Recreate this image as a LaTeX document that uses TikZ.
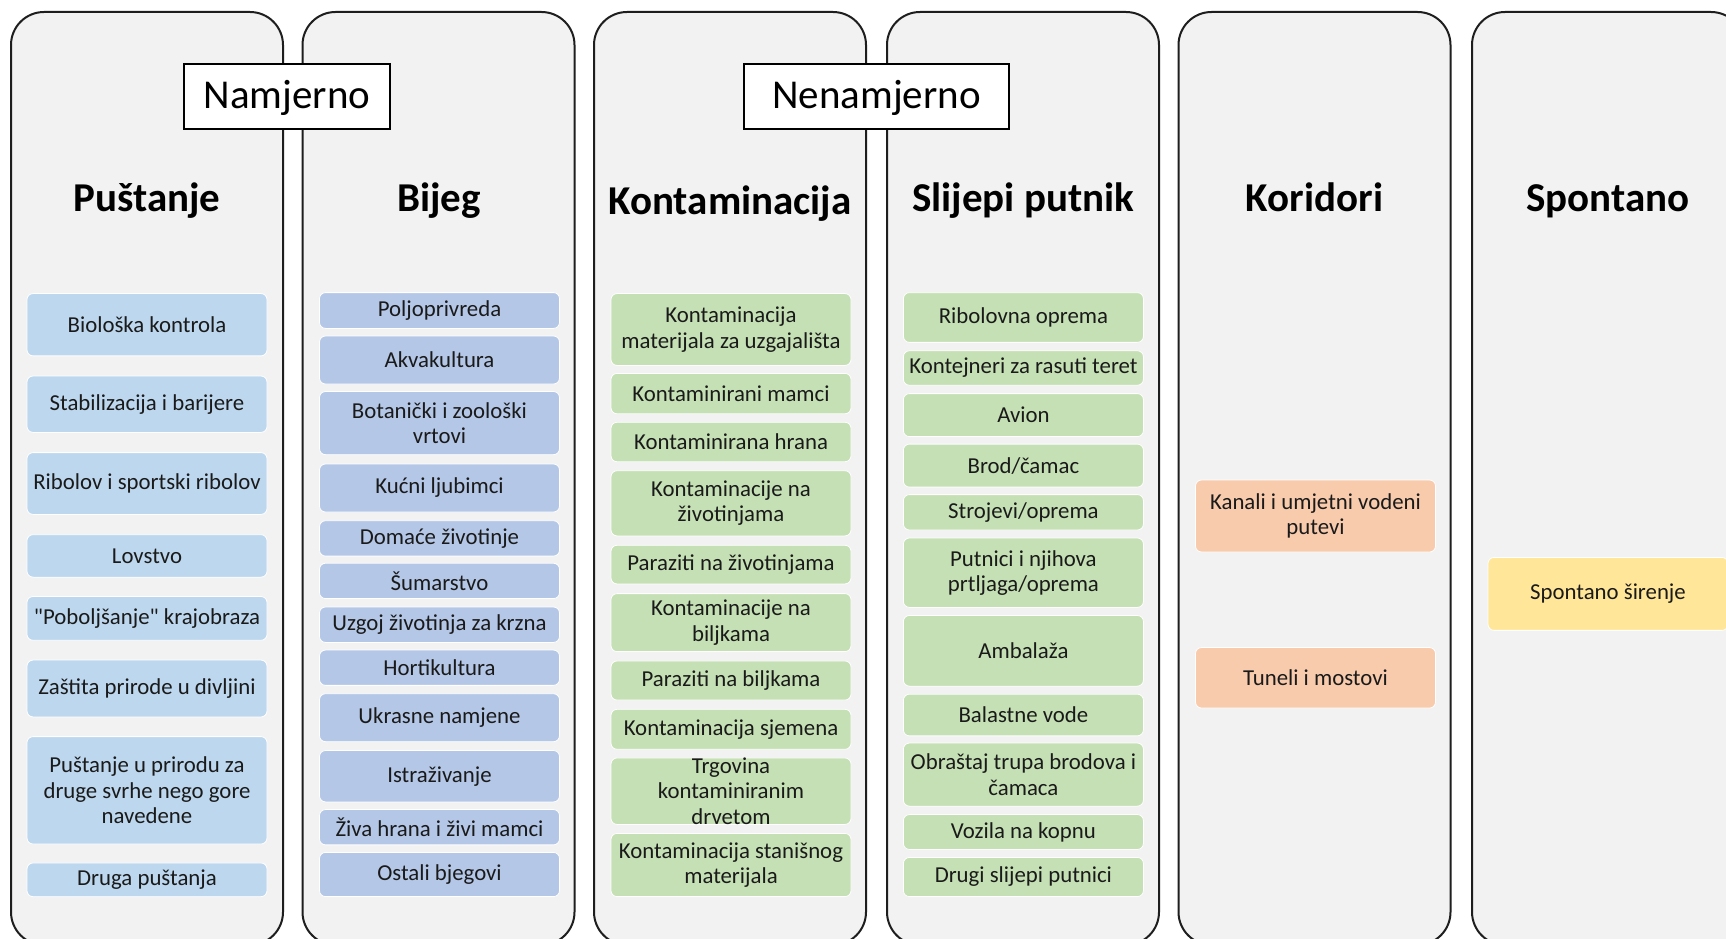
\documentclass[tikz,border=0pt]{standalone}
\usepackage{fontspec}
\setmainfont{Carlito}[Ligatures=TeXOff]
\definecolor{panelfill}{HTML}{F2F2F2}
\definecolor{panelline}{HTML}{1E1E1E}
\definecolor{blueA}{HTML}{BDD7EE}
\definecolor{blueB}{HTML}{B4C7E7}
\definecolor{greenA}{HTML}{C5E0B4}
\definecolor{orangeA}{HTML}{F8CBAD}
\definecolor{yellowA}{HTML}{FFE699}
\definecolor{textc}{HTML}{1A1A1A}
\tikzset{
  panel/.style={draw=panelline, line width=2pt, fill=panelfill, rounded corners=33pt,
    minimum width=272pt, minimum height=933pt, inner sep=0pt},
  ttl/.style={font=\fontsize{41}{48}\selectfont\bfseries, anchor=base, inner sep=0pt},
  grp/.style={draw=black, line width=1.3pt, fill=white, minimum height=65pt, inner sep=0pt,
    font=\fontsize{41}{48}\selectfont, text height=26pt, text depth=2pt},
  item/.style={draw=white, line width=0.8pt, rounded corners=6pt, minimum width=240pt,
    inner sep=0pt, align=center, font=\fontsize{22.8}{25.3}\selectfont, text=textc},
  ca/.style={item, fill=blueA},
  cb/.style={item, fill=blueB},
  cg/.style={item, fill=greenA},
  co/.style={item, fill=orangeA},
  cy/.style={item, fill=yellowA},
}
\begin{document}
\begin{tikzpicture}[x=1pt,y=-1pt]
\useasboundingbox (0,0) rectangle (1726,939);
\clip (0,0) rectangle (1726,939);
\fill[white] (0,0) rectangle (1726,939);
% panels
\node[panel] (p1) at (147,478.5) {};
\node[panel] (p2) at (438.5,478.5) {};
\node[panel] (p3) at (730,478.5) {};
\node[panel] (p4) at (1023,478.5) {};
\node[panel] (p5) at (1314.5,478.5) {};
\node[panel] (p6) at (1608,478.5) {};
% group labels
\node[grp, minimum width=206pt] (nam) at (287,96.5) {Namjerno};
\node[grp, minimum width=265pt] (nenam) at (876.5,96.5) {Nenamjerno};
% titles
\node[ttl] (t1) at (147,211) {Puštanje};
\node[ttl] (t2) at (439,211) {Bijeg};
\node[ttl] (t3) at (730,214) {Kontaminacija};
\node[ttl] (t4) at (1023,211) {Slijepi putnik};
\node[ttl] (t5) at (1314.5,211) {Koridori};
\node[ttl] (t6) at (1608,211) {Spontano};
% column 1
\node[ca, minimum height=62.3pt] (a1) at (147,324.7) {Biološka kontrola};
\node[ca, minimum height=56.4pt] (a2) at (147,404.2) {Stabilizacija i barijere};
\node[ca, minimum height=61.8pt] (a3) at (147,483.5) {Ribolov i sportski ribolov};
\node[ca, minimum height=42.5pt] (a4) at (147,555.9) {Lovstvo};
\node[ca, minimum height=43.8pt] (a5) at (147,618.4) {"Poboljšanje" krajobraza};
\node[ca, minimum height=56.9pt] (a6) at (147,688.5) {Zaštita prirode u divljini};
\node[ca, minimum height=107.4pt] (a7) at (147,790.3) {Puštanje u prirodu za\\druge svrhe nego gore\\navedene};
\node[ca, minimum height=33.7pt] (a8) at (147,879.8) {Druga puštanja};
% column 2
\node[cb, minimum height=35.8pt] (b1) at (439.5,310.5) {Poljoprivreda};
\node[cb, minimum height=48pt] (b2) at (439.5,360) {Akvakultura};
\node[cb, minimum height=63.2pt] (b3) at (439.5,423.1) {Botanički i zoološki\\vrtovi};
\node[cb, minimum height=48pt] (b4) at (439.5,488) {Kućni ljubimci};
\node[cb, minimum height=35.4pt] (b5) at (439.5,538.4) {Domaće životinje};
\node[cb, minimum height=35.4pt] (b6) at (439.5,580.9) {Šumarstvo};
\node[cb, minimum height=35.4pt] (b7) at (439.5,624.7) {Uzgoj životinja za krzna};
\node[cb, minimum height=35.3pt] (b8) at (439.5,667.7) {Hortikultura};
\node[cb, minimum height=48pt] (b9) at (439.5,717.7) {Ukrasne namjene};
\node[cb, minimum height=51.4pt] (b10) at (439.5,776.2) {Istraživanje};
\node[cb, minimum height=35.3pt] (b11) at (439.5,827.2) {Živa hrana i živi mamci};
\node[cb, minimum height=44.2pt] (b12) at (439.5,874.5) {Ostali bjegovi};
% column 3
\node[cg, minimum height=71.9pt] (g1) at (731,329.5) {Kontaminacija\\materijala za uzgajališta};
\node[cg, minimum height=40.4pt] (g2) at (731,393.6) {Kontaminirani mamci};
\node[cg, minimum height=39.5pt] (g3) at (731,442) {Kontaminirana hrana};
\node[cg, minimum height=65.2pt] (g4) at (731,503.3) {Kontaminacije na\\životinjama};
\node[cg, minimum height=38.7pt] (g5) at (731,564.6) {Paraziti na životinjama};
\node[cg, minimum height=58pt] (g6) at (731,622.6) {Kontaminacije na\\biljkama};
\node[cg, minimum height=39.1pt] (g7) at (731,680.5) {Paraziti na biljkama};
\node[cg, minimum height=40pt] (g8) at (731,729.3) {Kontaminacija sjemena};
\node[cg, minimum height=65.3pt] (g9) at (731,791.2) {Trgovina\\kontaminiranim\\drvetom};
\node[cg, minimum height=63.2pt] (g10) at (731,865) {Kontaminacija stanišnog\\materijala};
% column 4
\node[cg, minimum height=49.7pt] (s1) at (1023.4,317.5) {Ribolovna oprema};
\node[cg, minimum height=34.5pt] (s2) at (1023.4,368) {Kontejneri za rasuti teret};
\node[cg, minimum height=43pt] (s3) at (1023.4,415.1) {Avion};
\node[cg, minimum height=43pt] (s4) at (1023.4,465.6) {Brod/čamac};
\node[cg, minimum height=35.4pt] (s5) at (1023.4,512.3) {Strojevi/oprema};
\node[cg, minimum height=69.4pt] (s6) at (1023.4,572.7) {Putnici i njihova\\prtljaga/oprema};
\node[cg, minimum height=70.7pt] (s7) at (1023.4,650.8) {Ambalaža};
\node[cg, minimum height=41.7pt] (s8) at (1023.4,715) {Balastne vode};
\node[cg, minimum height=63.1pt] (s9) at (1023.4,774.6) {Obraštaj trupa brodova i\\čamaca};
\node[cg, minimum height=34.9pt] (s10) at (1023.4,832) {Vozila na kopnu};
\node[cg, minimum height=39.2pt] (s11) at (1023.4,877) {Drugi slijepi putnici};
% column 5
\node[co, minimum height=72pt] (k1) at (1315.5,516) {Kanali i umjetni vodeni\\putevi};
\node[co, minimum height=60.5pt] (k2) at (1315.5,677.8) {Tuneli i mostovi};
% column 6
\node[cy, minimum height=72.9pt] (sp1) at (1608,593.9) {Spontano širenje};
\end{tikzpicture}
\end{document}
